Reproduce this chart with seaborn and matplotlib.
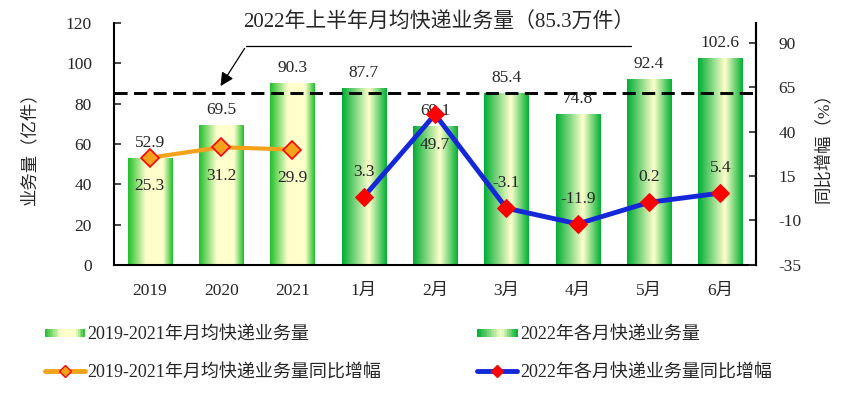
import numpy as np
import pandas as pd
import seaborn as sns
import matplotlib.pyplot as plt
from matplotlib.colors import LinearSegmentedColormap
from matplotlib.legend_handler import HandlerBase
from matplotlib.patches import Rectangle, Patch
from matplotlib.lines import Line2D

categories = ['2019', '2020', '2021', '1月', '2月', '3月', '4月', '5月', '6月']
volume = [52.9, 69.5, 90.3, 87.7, 69.1, 85.4, 74.8, 92.4, 102.6]
groups = ['avg', 'avg', 'avg', 'm', 'm', 'm', 'm', 'm', 'm']
growth_avg = [25.3, 31.2, 29.9]
growth_2022 = [3.3, 49.7, -3.1, -11.9, 0.2, 5.4]
avg_2022 = 85.3

df = pd.DataFrame({'cat': categories, 'val': volume, 'grp': groups})

sns.set_style('white')
plt.rcParams['font.family'] = ['Liberation Serif', 'Noto Sans CJK SC']
plt.rcParams['axes.unicode_minus'] = False

cmap_avg = LinearSegmentedColormap.from_list(
    'avg', [(0, '#1fbf2a'), (0.4, '#ffffcc'), (0.78, '#ffffcc'), (1, '#1fbf2a')])
cmap_m = LinearSegmentedColormap.from_list(
    'm', [(0, '#00ad34'), (0.6, '#ffffcc'), (1, '#00b032')])

fig = plt.figure(figsize=(8.65, 3.99), dpi=100)
ax = fig.add_axes([0.132, 0.336, 0.742, 0.606])

sns.barplot(data=df, x='cat', y='val', order=categories, width=0.62,
            color='#1fbf2a', ax=ax, zorder=2)

# gradient fill, clipped to each seaborn bar
grad = np.linspace(0, 1, 256).reshape(1, -1)
for p, g in zip(ax.patches, groups):
    x0, y0 = p.get_x(), p.get_y()
    w, h = p.get_width(), p.get_height()
    p.set_facecolor('none')
    p.set_edgecolor('none')
    im = ax.imshow(grad, cmap=cmap_avg if g == 'avg' else cmap_m, aspect='auto',
                   extent=[x0, x0 + w, y0, y0 + h], zorder=2)
    im.set_clip_path(p)

ax.set_xlim(-0.5, 8.5)
ax.set_ylim(0, 120)
ax.set_yticks(range(0, 121, 20))
ax.axhline(avg_2022, color='black', ls=(0, (4.5, 2.2)), lw=2.1, zorder=3)

for i, v in enumerate(volume):
    ax.text(i, v + 3.5, f'{v}', ha='center', va='bottom', fontsize=12.5, zorder=5)

ax2 = ax.twinx()
ax2.set_ylim(-35, 101)
ax2.set_yticks([-35, -10, 15, 40, 65, 90])

x_avg = list(range(3))
x_m = list(range(3, 9))
sns.lineplot(x=x_avg, y=growth_avg, ax=ax2, color='#f4a21c', lw=3,
             marker='D', markersize=9, markerfacecolor='#f4a21c',
             markeredgecolor='red', markeredgewidth=1.2, zorder=4)
sns.lineplot(x=x_m, y=growth_2022, ax=ax2, color='#1428d8', lw=3.5,
             marker='D', markersize=9, markerfacecolor='red',
             markeredgecolor='red', zorder=4)

for x, v in zip(x_avg, growth_avg):
    ax2.text(x, v - 16, f'{v}', ha='center', va='center', fontsize=12.5, zorder=5)
for x, v in zip(x_m, growth_2022):
    dy = -17 if v == 49.7 else 14
    ax2.text(x, v + dy, f'{v}', ha='center', va='center', fontsize=12.5, zorder=5)

# annotation for the 2022 half-year average
ax.text(4.05, 120.0, '2022年上半年月均快递业务量（85.3万件）', ha='center',
        va='center', fontsize=15)
ax.plot([1.35, 6.75], [108.6, 108.6], color='black', lw=0.9, clip_on=False)
ax.annotate('', xy=(0.97, 87.6), xytext=(1.35, 108.6),
            arrowprops=dict(arrowstyle='-|>', color='black', lw=0.9,
                            mutation_scale=20))

for a in (ax, ax2):
    for s in a.spines.values():
        s.set_linewidth(1.5)
        s.set_color('black')
    a.spines['top'].set_visible(False)
ax2.spines['left'].set_visible(False)
ax2.spines['bottom'].set_visible(False)

ax.tick_params(axis='y', direction='in', length=5, width=1.2, labelsize=12.5, pad=16)
ax2.tick_params(axis='y', direction='in', length=5, width=1.2, labelsize=12.5, pad=16)
ax.set_xticks(range(9))
ax.set_xticklabels(categories)
ax.tick_params(axis='x', which='major', length=0, labelsize=12.5, pad=13)
ax.set_xticks(np.arange(0.5, 8, 1), minor=True)
ax.tick_params(axis='x', which='minor', direction='in', length=5, width=1.2)

ax.set_xlabel('')
ax.set_ylabel('业务量（亿件）', fontsize=12.5, labelpad=20)
ax2.set_ylabel('同比增幅（%）', fontsize=12.5, rotation=90, labelpad=10)


class GradHandler(HandlerBase):
    def __init__(self, cmap):
        super().__init__()
        self.cmap = cmap

    def create_artists(self, legend, orig_handle, xdescent, ydescent,
                       width, height, fontsize, trans):
        n = 24
        arts = []
        h = 6
        y0 = -ydescent + (height - h) / 2
        for k in range(n):
            r = Rectangle((-xdescent + width * k / n, y0), width / n + 0.3,
                          h, facecolor=self.cmap((k + 0.5) / n),
                          edgecolor='none', transform=trans)
            arts.append(r)
        return arts


h_avg = Patch(label='2019-2021年月均快递业务量')
h_m = Patch(label='2022年各月快递业务量')
l_avg = Line2D([], [], color='#f4a21c', lw=3.5, marker='D', markersize=6.5,
               markerfacecolor='#f4a21c', markeredgecolor='red',
               solid_capstyle='round', label='2019-2021年月均快递业务量同比增幅')
l_m = Line2D([], [], color='#1428d8', lw=3.5, marker='D', markersize=6.5,
             markerfacecolor='red', markeredgecolor='red',
             solid_capstyle='round', label='2022年各月快递业务量同比增幅')

leg_kw = dict(frameon=False, loc='center left', fontsize=13, handlelength=2.2,
              handletextpad=0.15, labelspacing=1.2, borderaxespad=0,
              borderpad=0)
fig.legend(handles=[h_avg, l_avg], bbox_to_anchor=(0.052, 0.113),
           handler_map={h_avg: GradHandler(cmap_avg)}, **leg_kw)
fig.legend(handles=[h_m, l_m], bbox_to_anchor=(0.552, 0.113),
           handler_map={h_m: GradHandler(cmap_m)}, **leg_kw)

fig.savefig('out.png', dpi=100)
